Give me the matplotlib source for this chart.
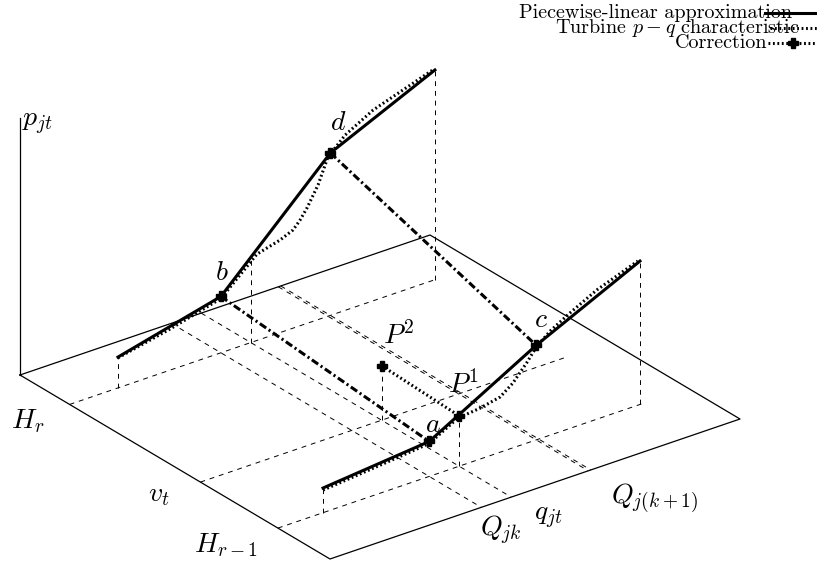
import numpy as np
import matplotlib as mpl
mpl.rcParams['mathtext.fontset'] = 'cm'
mpl.rcParams['font.family'] = 'serif'
mpl.rcParams['font.serif'] = ['cmr10']
mpl.rcParams['axes.unicode_minus'] = False
mpl.rcParams['lines.scale_dashes'] = False
import matplotlib.pyplot as plt

# head levels along the v axis
v_hr = 0.16
v_vt = 0.582
v_hr1 = 0.832

# piecewise-linear breakpoints (q, p) at H_r and H_{r-1}
q_up = [0.118, 0.369, 0.636, 0.891]
p_up = [0.120, 0.219, 0.632, 0.816]
q_lo = [0.110, 0.369, 0.630, 0.883]
p_lo = [0.096, 0.136, 0.368, 0.558]

# turbine p-q characteristic samples
qt_up = [0.118, 0.245, 0.369, 0.457, 0.513, 0.545, 0.562, 0.579, 0.606, 0.630,
         0.672, 0.740, 0.806, 0.886]
pt_up = [0.117, 0.160, 0.211, 0.336, 0.360, 0.382, 0.411, 0.449, 0.524, 0.619,
         0.682, 0.742, 0.777, 0.819]
qt_lo = [0.110, 0.237, 0.369, 0.439, 0.493, 0.542, 0.573, 0.608, 0.630, 0.664,
         0.712, 0.778, 0.878]
pt_lo = [0.088, 0.107, 0.128, 0.189, 0.198, 0.215, 0.252, 0.315, 0.361, 0.405,
         0.449, 0.503, 0.561]

# operating point before / after correction
q_jt = 0.442
p_P1 = 0.196
p_P2 = 0.212
q_end = 0.89


def proj(v, q, p):
    v, q, p = np.broadcast_arrays(np.asarray(v, float), np.asarray(q, float),
                                  np.asarray(p, float))
    x = 20 + 310 * v + 410 * q
    y = 375 + 184 * v - 140 * q - 257 * p
    return x, y


fig = plt.figure(figsize=(8.17, 5.68), dpi=100)
ax = fig.add_axes([0, 0, 1, 1])
ax.set_xlim(0, 817)
ax.set_ylim(568, 0)
ax.axis('off')

thin = dict(color='k', lw=0.9)
dash = dict(color='k', lw=0.7, dashes=(3.5, 3.5))

# floor and p axis
ax.plot(*proj([0, 0, 1, 1, 0], [0, 1, 1, 0, 0], 0), **thin)
ax.plot(*proj(0, 0, [0, 1]), **thin)

# projection lines on the floor
for v in [v_hr, v_vt, v_hr1]:
    ax.plot(*proj(v, [0, q_end], 0), **dash)
for q in [q_lo[1], q_up[2], q_lo[2], q_jt]:
    ax.plot(*proj([0, 1], q, 0), **dash)

# drop lines
ax.plot(*proj(v_hr, q_up[0], [0, p_up[0]]), **dash)
ax.plot(*proj(v_hr, q_up[-1], [0, p_up[-1]]), **dash)
ax.plot(*proj(v_hr1, q_lo[0], [0, p_lo[0]]), **dash)
ax.plot(*proj(v_hr1, q_lo[-1], [0, p_lo[-1]]), **dash)
p_up_jt = np.interp(q_jt, q_up, p_up)
ax.plot(*proj(v_hr, q_jt, [0, p_up_jt]), **dash)
ax.plot(*proj(v_hr1, q_jt, [0, p_P1]), **dash)
ax.plot(*proj(v_vt, q_jt, [0, p_P2]), **dash)

# turbine characteristic
dot = dict(color='k', lw=2.2, dashes=(1.3, 1.9))
ax.plot(*proj(v_hr, qt_up, pt_up), **dot)
ax.plot(*proj(v_hr1, qt_lo, pt_lo), **dot)

# piecewise-linear approximation
ax.plot(*proj(v_hr, q_up, p_up), color='k', lw=2.2)
ax.plot(*proj(v_hr1, q_lo, p_lo), color='k', lw=2.2)

# connecting lines between the two heads
dd = dict(color='k', lw=2.2, dashes=(5.5, 2.2, 1.5, 2.2))
ax.plot(*proj([v_hr, v_hr1], [q_up[1], q_lo[1]], [p_up[1], p_lo[1]]), **dd)
ax.plot(*proj([v_hr, v_hr1], [q_up[2], q_lo[2]], [p_up[2], p_lo[2]]), **dd)

# correction
ax.plot(*proj([v_vt, v_hr1], q_jt, [p_P2, p_P1]), color='k', lw=2.2,
        dashes=(1.3, 1.9))

mk = dict(marker='P', ms=7, color='k', ls='none')
ax.plot(*proj(v_hr, q_up[1:3], p_up[1:3]), **mk)
ax.plot(*proj(v_hr1, q_lo[1:3], p_lo[1:3]), **mk)
ax.plot(*proj([v_hr1, v_vt], q_jt, [p_P1, p_P2]), **mk)

fs = 20
lab = dict(fontsize=fs, ha='center', va='center')


def label(txt, v, q, p, dx, dy):
    x, y = proj(v, q, p)
    ax.text(x + dx, y + dy, txt, **lab)


label('$b$', v_hr, q_up[1], p_up[1], 1, -24)
label('$d$', v_hr, q_up[2], p_up[2], 8, -30)
label('$a$', v_hr1, q_lo[1], p_lo[1], 4, -17)
label('$c$', v_hr1, q_lo[2], p_lo[2], 5, -25)
label('$P^1$', v_hr1, q_jt, p_P1, 4, -31)
label('$P^2$', v_vt, q_jt, p_P2, 17, -30)
label('$H_r$', v_hr, 0, 0, -42, 17)
label('$v_t$', v_vt, 0, 0, -41, 13)
label('$H_{r-1}$', v_hr1, 0, 0, -52, 17)
label('$Q_{jk}$', 1, q_lo[1], 0, 20, 23)
label('$q_{jt}$', 1, q_jt, 0, 37, 21)
label('$Q_{j(k+1)}$', 1, q_lo[2], 0, 66, 27)
x0, y0 = proj(0, 0, 1)
ax.text(x0 + 2, y0 + 6, '$p_{jt}$', fontsize=fs, ha='left', va='center')

# legend
lg = 14.5
ax.text(792, 13, 'Piecewise-linear approximation', fontsize=lg, ha='right',
        va='center')
ax.text(800, 28, 'Turbine $p-q$ characteristic', fontsize=lg, ha='right',
        va='center')
ax.text(767, 43, 'Correction', fontsize=lg, ha='right', va='center')
ax.plot([765, 830], [13, 13], color='k', lw=2.2, clip_on=False)
ax.plot([770, 830], [28, 28], color='k', lw=2.2, dashes=(1.3, 1.9))
ax.plot([768, 830], [43, 43], color='k', lw=2.2, dashes=(1.3, 1.9))
ax.plot([793], [43], **mk)

plt.savefig('out.png', dpi=100)
plt.close()
